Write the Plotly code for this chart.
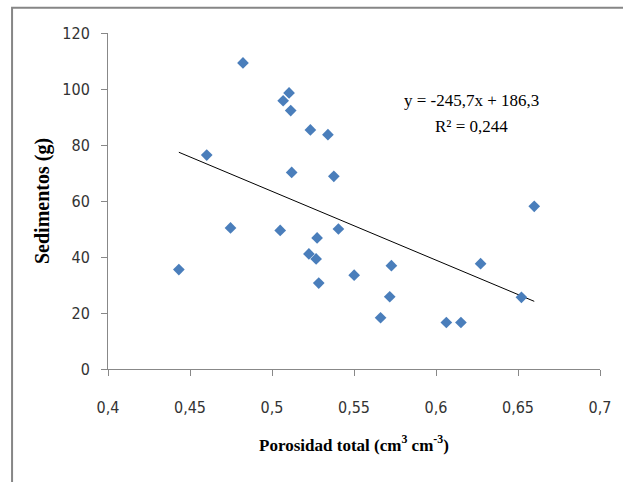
import plotly.graph_objects as go

porosidad = [0.4432, 0.4602, 0.4747, 0.4823, 0.5050, 0.5068, 0.5104, 0.5114, 0.5120,
             0.5234, 0.5225, 0.5269, 0.5275, 0.5285, 0.5341, 0.5377, 0.5405, 0.5501,
             0.5662, 0.5718, 0.5728, 0.6063, 0.6152, 0.6272, 0.6521, 0.6599]
sedimentos = [35.5, 76.4, 50.4, 109.3, 49.5, 95.8, 98.6, 92.3, 70.2,
              85.4, 41.1, 39.3, 46.8, 30.7, 83.7, 68.8, 50.0, 33.5,
              18.3, 25.8, 36.9, 16.6, 16.6, 37.6, 25.6, 58.1]

slope = -245.7
intercept = 186.3
r2_text = "R² = 0,244"
eq_text = "y = -245,7x + 186,3"

x_ticks = [0.4, 0.45, 0.5, 0.55, 0.6, 0.65, 0.7]
x_ticklabels = ["0,4", "0,45", "0,5", "0,55", "0,6", "0,65", "0,7"]
y_ticks = [0, 20, 40, 60, 80, 100, 120]

xmin, xmax = min(porosidad), max(porosidad)
trend_x = [xmin, xmax]
trend_y = [slope * v + intercept for v in trend_x]

fig = go.Figure()
fig.add_trace(go.Scatter(
    x=trend_x, y=trend_y, mode="lines",
    line=dict(color="black", width=1), showlegend=False, hoverinfo="skip"))
fig.add_trace(go.Scatter(
    x=porosidad, y=sedimentos, mode="markers",
    marker=dict(symbol="diamond", size=9, color="#4A7EBB"),
    showlegend=False))

tickfont = dict(family="DejaVu Sans Condensed, Liberation Sans, sans-serif", size=16, color="#333333")
serif = "Liberation Serif, Times New Roman, serif"

fig.update_layout(
    width=623, height=482,
    margin=dict(l=108, r=16, t=33, b=113),
    paper_bgcolor="white", plot_bgcolor="white",
    showlegend=False,
    xaxis=dict(
        range=[0.4, 0.7], tickvals=x_ticks, ticktext=x_ticklabels,
        showgrid=False, zeroline=False, showline=True, linecolor="#888888", linewidth=1,
        ticks="outside", ticklen=6, tickcolor="#888888", tickfont=tickfont,
        ticklabelstandoff=18,
        title=dict(text="<b>Porosidad total (cm<sup>3</sup> cm<sup>-3</sup>)</b>",
                   font=dict(family=serif, size=17, color="black"),
                   standoff=22),
    ),
    yaxis=dict(
        range=[0, 120], tickvals=y_ticks,
        showgrid=False, zeroline=False, showline=True, linecolor="#888888", linewidth=1,
        ticks="outside", ticklen=6, tickcolor="#888888", tickfont=tickfont,
        ticklabelstandoff=8,
        title=dict(text="<b>Sedimentos (g)</b>",
                   font=dict(family=serif, size=20, color="black"),
                   standoff=7),
    ),
    annotations=[
        dict(x=0.738, y=0.7985, xref="paper", yref="paper", showarrow=False,
             xanchor="center", yanchor="middle", text=eq_text,
             font=dict(family=serif, size=17, color="black")),
        dict(x=0.738, y=0.721, xref="paper", yref="paper", showarrow=False,
             xanchor="center", yanchor="middle", text=r2_text,
             font=dict(family=serif, size=17, color="black")),
    ],
    shapes=[
        dict(type="rect", xref="paper", yref="paper",
             x0=-0.195, x1=1.05, y0=-0.4, y1=1.0755,
             line=dict(color="#868686", width=2), fillcolor="rgba(0,0,0,0)", layer="below"),
    ],
)

fig.write_html("out.html")
